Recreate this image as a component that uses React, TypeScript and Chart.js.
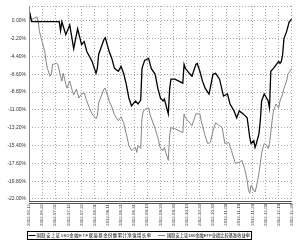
import { useEffect, useRef } from "react";
import { Chart, registerables } from "chart.js";

Chart.register(...registerables);

// x values are calendar days counted from the first date
const START_DATE = "2012-06-12";
const X_MAX_DAYS = 200;
const X_TICK_STEP_DAYS = 10;
const Y_TICKS = [0, -2.2, -4.4, -6.6, -8.8, -11, -13.2, -15.4, -17.6, -19.8, -22];
const Y_MIN = -22.25;
const Y_MAX = 1.83;

const SERIES_NAMES = [
  "国联安上证180金融ETF联接基金份额累计净值增长率",
  "国联安上证180金融ETF业绩比较基准收益率",
];

const fundDays = [0, 1, 2, 23, 24, 25, 28, 31, 34, 37, 40, 42, 44, 48, 51, 52, 53, 57, 58, 61, 63, 65, 68, 70, 72, 74, 76, 78, 81, 83, 85, 86, 88, 91, 92, 93, 96, 98, 100, 102, 103, 106, 107, 108, 111, 117, 118, 119, 122, 124, 127, 128, 130, 132, 134, 137, 140, 142, 145, 148, 151, 153, 156, 158, 160, 163, 166, 168, 169, 171, 172, 173, 175, 176, 177, 179, 182, 183, 184, 186, 190, 191, 192, 193, 194, 196, 198, 200];
const fundValues = [0, 0.73, -0.1, -0.1, -1.22, -0.12, -1.71, -0.49, -3.42, -0.98, -2.93, -2.57, -3.79, -5.01, -6.48, -5.87, -4.16, -2.32, -2.08, -3.79, -4.64, -5.87, -6.23, -5.62, -6.48, -7.82, -9.53, -10.51, -9.9, -10.27, -9.78, -5.87, -4.89, -4.64, -5.26, -5.87, -6.6, -8.31, -9.53, -9.9, -9.66, -11.49, -8.43, -7.21, -7.21, -7.7, -5.38, -5.87, -6.48, -6.84, -5.38, -5.26, -6.23, -7.45, -8.31, -9.04, -6.6, -6.48, -7.21, -9.29, -9.04, -10.27, -11.12, -11.98, -11.12, -11.49, -11.98, -14.42, -15.15, -14.79, -15.64, -15.15, -13.93, -12.34, -9.9, -9.04, -9.9, -10.75, -6.23, -5.87, -5.01, -5.26, -5.01, -4.16, -2.2, -1.34, -0.12, 0.24];

const benchDays = [0, 3, 6, 7, 8, 10, 12, 13, 14, 16, 17, 18, 21, 22, 24, 25, 26, 27, 28, 29, 31, 33, 34, 36, 38, 40, 42, 44, 46, 48, 51, 52, 53, 57, 58, 61, 63, 65, 68, 70, 72, 74, 76, 78, 81, 82, 83, 85, 86, 87, 89, 91, 92, 93, 96, 98, 100, 102, 103, 104, 106, 107, 108, 111, 117, 118, 119, 121, 123, 124, 126, 127, 130, 131, 134, 136, 138, 140, 142, 145, 147, 149, 152, 154, 157, 160, 162, 164, 166, 167, 168, 169, 171, 172, 173, 175, 176, 177, 178, 179, 181, 182, 183, 185, 186, 188, 190, 191, 193, 194, 196, 197, 200];
const benchValues = [0, 0.24, 0.49, -0.12, -1.34, -2.57, -3.79, -5.01, -5.87, -6.84, -6.6, -5.38, -5.26, -5.38, -6.84, -7.45, -6.48, -7.09, -7.82, -8.31, -7.45, -8.68, -9.17, -8.43, -9.53, -9.04, -8.92, -9.9, -10.75, -11.49, -12.1, -11.73, -10.14, -8.43, -8.31, -9.9, -10.63, -11.61, -12.34, -11.85, -12.59, -13.93, -15.4, -16.01, -15.64, -16.25, -15.4, -15.76, -11.98, -11.12, -10.88, -10.75, -11.49, -11.98, -13.32, -14.42, -15.76, -16.01, -15.64, -16.25, -17.23, -14.18, -13.2, -13.32, -13.81, -11.49, -11.98, -12.34, -12.71, -12.95, -11.98, -11.49, -11.49, -12.34, -14.18, -15.15, -15.03, -13.57, -12.59, -12.95, -13.2, -15.15, -15.03, -16.01, -17.6, -17.48, -17.23, -18.21, -19.68, -20.9, -21.27, -20.29, -20.9, -21.14, -20.53, -18.82, -17.6, -16.38, -15.64, -15.15, -15.4, -15.76, -15.15, -12.34, -11.12, -10.27, -10.75, -9.9, -9.04, -8.31, -7.45, -6.6, -5.87];

const FUND_COLOR = "#000000";
const BENCH_COLOR = "#858585";
const GRID_COLOR = "#a8a8a8";
const FONT_FAMILY = '"Liberation Sans", Arial, "Noto Sans CJK SC", sans-serif';

function dayToLabel(day: number): string {
  const base = new Date(START_DATE + "T00:00:00Z").getTime();
  const d = new Date(base + Math.round(day) * 86400000);
  const mm = String(d.getUTCMonth() + 1).padStart(2, "0");
  const dd = String(d.getUTCDate()).padStart(2, "0");
  return `${d.getUTCFullYear()}-${mm}-${dd}`;
}

const framePlugin = {
  id: "frameAndLegend",
  afterDraw(chart: any) {
    const { ctx, chartArea: a } = chart;
    ctx.save();
    // top dotted border
    ctx.strokeStyle = GRID_COLOR;
    ctx.lineWidth = 1;
    ctx.setLineDash([1, 2]);
    ctx.beginPath();
    ctx.moveTo(a.left, Math.round(a.top) + 0.5);
    ctx.lineTo(a.right, Math.round(a.top) + 0.5);
    ctx.stroke();
    ctx.setLineDash([]);
    // solid left axis line
    ctx.strokeStyle = "#8a8a8a";
    ctx.beginPath();
    ctx.moveTo(Math.round(a.left) + 0.5, a.top);
    ctx.lineTo(Math.round(a.left) + 0.5, a.bottom);
    ctx.stroke();
    // double bottom line
    ctx.strokeStyle = "#555";
    const b = Math.round(a.bottom);
    ctx.beginPath();
    ctx.moveTo(a.left, b + 0.5);
    ctx.lineTo(a.right, b + 0.5);
    ctx.moveTo(a.left, b + 2.5);
    ctx.lineTo(a.right, b + 2.5);
    ctx.stroke();

    // legend box
    ctx.strokeStyle = "#000";
    ctx.strokeRect(27.5, 231.5, 224, 8);
    const items = [
      { color: FUND_COLOR, lx: 28.5, tx: 36.5, tw: 115 },
      { color: BENCH_COLOR, lx: 158, tx: 167, tw: 83 },
    ];
    ctx.font = `4.4px ${FONT_FAMILY}`;
    ctx.textBaseline = "middle";
    ctx.textAlign = "left";
    items.forEach((it, i) => {
      ctx.strokeStyle = it.color;
      ctx.lineWidth = 1;
      ctx.beginPath();
      ctx.moveTo(it.lx, 235.5);
      ctx.lineTo(it.lx + 7, 235.5);
      ctx.stroke();
      const text = SERIES_NAMES[i];
      (ctx as any).letterSpacing = "0px";
      const w = ctx.measureText(text).width;
      const extra = Math.max(0, (it.tw - w) / text.length);
      (ctx as any).letterSpacing = `${extra}px`;
      ctx.fillStyle = "#000";
      ctx.fillText(text, it.tx, 235.8, it.tw);
    });
    (ctx as any).letterSpacing = "0px";
    ctx.restore();
  },
};

export default function App() {
  const canvasRef = useRef<HTMLCanvasElement | null>(null);

  useEffect(() => {
    document.body.style.margin = "0";
    const canvas = canvasRef.current;
    if (!canvas) return;
    const chart = new Chart(canvas, {
      type: "line",
      data: {
        datasets: [
          {
            label: SERIES_NAMES[0],
            data: fundDays.map((d, i) => ({ x: d, y: fundValues[i] })),
            borderColor: FUND_COLOR,
            borderWidth: 1.3,
            pointRadius: 0,
            tension: 0,
            order: 0,
          },
          {
            label: SERIES_NAMES[1],
            data: benchDays.map((d, i) => ({ x: d, y: benchValues[i] })),
            borderColor: BENCH_COLOR,
            borderWidth: 1,
            pointRadius: 0,
            tension: 0,
            order: 1,
          },
        ],
      },
      options: {
        animation: false,
        responsive: false,
        devicePixelRatio: 1,
        layout: { padding: { left: 0, right: 4, top: 4, bottom: 0 } },
        plugins: {
          legend: { display: false },
          tooltip: { enabled: false },
          title: { display: false },
        },
        scales: {
          x: {
            type: "linear",
            min: 0,
            max: X_MAX_DAYS,
            afterBuildTicks: (scale: any) => {
              const t = [];
              for (let v = 0; v <= X_MAX_DAYS; v += X_TICK_STEP_DAYS) t.push({ value: v });
              scale.ticks = t;
            },
            afterFit: (scale: any) => {
              scale.height = 43;
            },
            ticks: {
              autoSkip: false,
              maxRotation: 90,
              minRotation: 90,
              padding: 3,
              color: "#333",
              font: { size: 4.3, family: FONT_FAMILY },
              callback: (v: any) => dayToLabel(Number(v)),
            },
            grid: { color: GRID_COLOR, lineWidth: 1, drawTicks: false },
            border: { display: false, dash: [1, 2] },
          },
          y: {
            type: "linear",
            min: Y_MIN,
            max: Y_MAX,
            afterBuildTicks: (scale: any) => {
              scale.ticks = Y_TICKS.map((v) => ({ value: v }));
            },
            afterFit: (scale: any) => {
              scale.width = 29;
            },
            ticks: {
              padding: 3,
              color: "#333",
              font: { size: 5, family: FONT_FAMILY },
              callback: (v: any) => `${Number(v).toFixed(2)}%`,
            },
            grid: { color: GRID_COLOR, lineWidth: 1, drawTicks: false },
            border: { display: false, dash: [1, 2] },
          },
        },
      },
      plugins: [framePlugin],
    } as any);
    return () => chart.destroy();
  }, []);

  return (
    <div style={{ position: "relative", width: 300, height: 244 }}>
      <canvas ref={canvasRef} width={300} height={244} style={{ display: "block", width: 300, height: 244 }} />
    </div>
  );
}
